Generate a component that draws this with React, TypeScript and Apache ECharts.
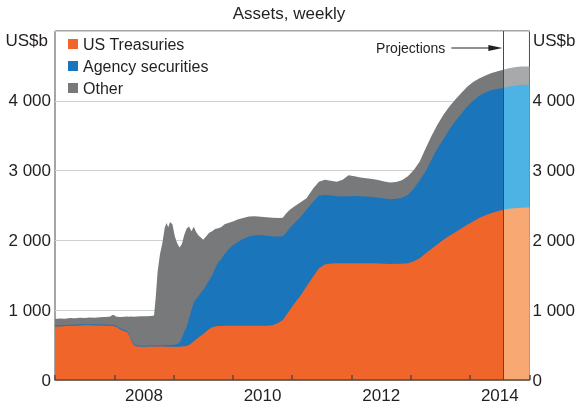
import React, { useEffect, useRef } from 'react';
import * as echarts from 'echarts';

// decimal years
const dates = [
  2007.00, 2007.08, 2007.17, 2007.25, 2007.33, 2007.42, 2007.50, 2007.58, 2007.67, 2007.75,
  2007.83, 2007.92, 2007.98, 2008.04, 2008.10, 2008.17, 2008.21, 2008.25, 2008.29, 2008.33,
  2008.38, 2008.46, 2008.54, 2008.62, 2008.67, 2008.70, 2008.73, 2008.77, 2008.81, 2008.85,
  2008.88, 2008.91, 2008.94, 2008.98, 2009.02, 2009.06, 2009.10, 2009.14, 2009.18, 2009.22,
  2009.26, 2009.30, 2009.34, 2009.38, 2009.42, 2009.46, 2009.50, 2009.55, 2009.60, 2009.65,
  2009.70, 2009.75, 2009.80, 2009.86, 2009.92, 2010.00, 2010.08, 2010.17, 2010.27, 2010.37,
  2010.47, 2010.57, 2010.67, 2010.77, 2010.84, 2010.90, 2010.96, 2011.04, 2011.13, 2011.24,
  2011.35, 2011.45, 2011.55, 2011.65, 2011.75, 2011.85, 2011.95, 2012.05, 2012.15, 2012.25,
  2012.35, 2012.45, 2012.55, 2012.65, 2012.75, 2012.85, 2012.95, 2013.05, 2013.15, 2013.25,
  2013.35, 2013.45, 2013.55, 2013.65, 2013.75, 2013.85, 2013.95, 2014.05, 2014.15, 2014.25,
  2014.35, 2014.45, 2014.56,
];

const treasuries = [
  765, 768, 772, 776, 779, 782, 784, 784, 782, 780,
  779, 776, 772, 760, 722, 700, 690, 640, 560, 500,
  480, 478, 478, 479, 480, 480, 480, 480, 480, 480,
  478, 478, 478, 478, 478, 478, 478, 480, 483, 488,
  500, 525, 555, 585, 610, 635, 660, 695, 730, 755,
  768, 774, 775, 776, 776, 776, 776, 776, 776, 776,
  776, 776, 785, 820, 860, 930, 1004, 1100, 1195, 1338,
  1480, 1600, 1655, 1668, 1672, 1673, 1673, 1674, 1673, 1673,
  1671, 1668, 1665, 1663, 1664, 1667, 1672, 1700, 1745, 1815,
  1880, 1945, 2010, 2065, 2115, 2170, 2225, 2270, 2320, 2355,
  2390, 2415, 2438,
];

const agency = [
  15, 15, 15, 15, 15, 15, 15, 15, 15, 15,
  15, 15, 15, 15, 15, 15, 15, 15, 15, 15,
  15, 14, 14, 15, 16, 16, 16, 16, 17, 18,
  20, 21, 22, 22, 27, 37, 52, 120, 207, 276,
  380, 475, 555, 575, 590, 615, 630, 665, 700, 745,
  832, 906, 955, 1024, 1094, 1154, 1199, 1244, 1279, 1299,
  1303, 1289, 1270, 1235, 1200, 1180, 1176, 1150, 1128, 1100,
  1070, 1040, 1000, 977, 960, 957, 959, 961, 959, 956,
  951, 944, 935, 928, 931, 943, 978, 1040, 1115, 1175,
  1280, 1375, 1440, 1525, 1595, 1640, 1695, 1730, 1750, 1760,
  1760, 1755, 1745,
];

const other = [
  95, 99, 91, 97, 90, 96, 91, 98, 96, 105,
  108, 114, 148, 130, 165, 191, 203, 250, 335, 391,
  413, 420, 423, 424, 429, 704, 1054, 1304, 1463, 1682,
  1752, 1691, 1765, 1730, 1555, 1445, 1370, 1350, 1390, 1406,
  1320, 1130, 1085, 960, 870, 790, 720, 700, 680, 630,
  565, 495, 460, 430, 380, 340, 325, 300, 287, 270,
  261, 265, 268, 265, 265, 280, 258, 240, 215, 167,
  190, 200, 215, 210, 208, 240, 303, 285, 268, 263,
  258, 253, 245, 239, 240, 250, 270, 270, 270, 330,
  340, 340, 350, 330, 310, 300, 280, 270, 250, 245,
  245, 250, 263,
];

const projDates = [2014.56, 2014.65, 2014.75, 2014.85, 2014.95, 2015.0];
const projTreasuries = [2438, 2452, 2462, 2468, 2471, 2471];
const projAgency = [1745, 1748, 1753, 1758, 1760, 1760];
const projOther = [263, 268, 267, 264, 262, 262];

const xYearLabels = [2008, 2010, 2012, 2014];
const projectionStart = 2014.56;

const seriesNames = ['US Treasuries', 'Agency securities', 'Other'];
const mainColors = ['#F0652A', '#1B75BB', '#77797B'];
const projColors = ['#F8A872', '#4CB3E4', '#A7A9AB'];

const FONT = '"Liberation Sans", Arial, Helvetica, sans-serif';

function fmtThousands(v: number): string {
  if (v >= 1000) {
    const th = Math.floor(v / 1000);
    const rest = String(v % 1000).padStart(3, '0');
    return th + ' ' + rest;
  }
  return String(v);
}

function yLabel(v: number): string {
  if (v >= 5000) return '';
  return fmtThousands(v);
}

// cumulative stacks: level 0 = treasuries, 1 = +agency, 2 = +other
function cumulative(parts: number[][]): number[][] {
  const out: number[][] = [];
  let acc = parts[0].map(() => 0);
  parts.forEach((p) => {
    acc = acc.map((a, i) => a + p[i]);
    out.push(acc.slice());
  });
  return out;
}

function pair(xs: number[], ys: number[]) {
  return xs.map((x, i) => [x, ys[i]]);
}

export default function App() {
  const ref = useRef<HTMLDivElement>(null);
  useEffect(() => {
    if (!ref.current) return;
    const chart = echarts.init(ref.current, null, { renderer: 'svg' });
    const mainCum = cumulative([treasuries, agency, other]);
    const projCum = cumulative([projTreasuries, projAgency, projOther]);
    const series: any[] = [];
    // draw tallest first so lower layers sit on top
    [2, 1, 0].forEach((i, order) => {
      series.push({
        name: seriesNames[i],
        type: 'line',
        data: pair(dates, mainCum[i]),
        showSymbol: false,
        symbol: 'none',
        lineStyle: { width: 0, color: mainColors[i] },
        itemStyle: { color: mainColors[i] },
        areaStyle: { color: mainColors[i], opacity: 1, origin: 'start' },
        silent: true,
        z: 2 + order,
      });
    });
    [2, 1, 0].forEach((i, order) => {
      const s: any = {
        name: seriesNames[i] + ' (projection)',
        type: 'line',
        data: pair(projDates, projCum[i]),
        showSymbol: false,
        symbol: 'none',
        lineStyle: { width: 0, color: projColors[i] },
        itemStyle: { color: projColors[i] },
        areaStyle: { color: projColors[i], opacity: 1, origin: 'start' },
        silent: true,
        z: 2 + order,
      };
      if (order === 2) {
        s.markLine = {
          silent: true,
          symbol: ['none', 'none'],
          label: { show: false },
          lineStyle: { color: '#4a4a4a', type: 'solid', width: 1 },
          data: [{ xAxis: projectionStart }],
        };
      }
      series.push(s);
    });

    chart.setOption({
      animation: false,
      textStyle: { fontFamily: FONT },
      title: {
        text: 'Assets, weekly',
        left: 'center',
        top: 5,
        padding: 0,
        textStyle: { fontSize: 17, fontWeight: 'normal', color: '#231f20', fontFamily: FONT },
      },
      legend: {
        data: seriesNames,
        orient: 'vertical',
        left: 68,
        top: 36,
        padding: 0,
        itemWidth: 10,
        itemHeight: 10,
        itemGap: 6,
        icon: 'rect',
        selectedMode: false,
        textStyle: { fontSize: 16, color: '#231f20', fontFamily: FONT },
      },
      grid: {
        left: 55,
        right: 48,
        top: 31,
        bottom: 26,
        show: true,
        borderColor: '#4d4d4d',
        borderWidth: 1,
        backgroundColor: 'transparent',
      },
      xAxis: [
        {
          type: 'value',
          min: 2007,
          max: 2015,
          interval: 1,
          position: 'bottom',
          axisLine: { show: true, onZero: false, lineStyle: { color: '#5a4a40', width: 1.5 } },
          axisTick: { show: true, inside: true, length: 5, lineStyle: { color: '#5a4a40', width: 1.5 } },
          axisLabel: { show: false },
          splitLine: { show: false },
          z: 10,
        },
        {
          type: 'value',
          min: 2007,
          max: 2015,
          interval: 0.5,
          position: 'bottom',
          axisLine: { show: false },
          axisTick: { show: false },
          splitLine: { show: false },
          axisLabel: {
            show: true,
            margin: 7,
            fontSize: 17,
            color: '#231f20',
            fontFamily: FONT,
            formatter: (v: number) => {
              const y = Math.floor(v);
              if (Math.abs(v - y - 0.5) < 0.01 && xYearLabels.indexOf(y) >= 0) return String(y);
              return '';
            },
          },
        },
      ],
      yAxis: [
        {
          type: 'value',
          min: 0,
          max: 5000,
          interval: 1000,
          position: 'left',
          axisLine: { show: false },
          axisTick: { show: false },
          splitLine: { show: true, lineStyle: { color: '#d0d0d0', width: 1 } },
          axisLabel: { margin: 4, fontSize: 17, color: '#231f20', fontFamily: FONT, formatter: yLabel },
        },
        {
          type: 'value',
          min: 0,
          max: 5000,
          interval: 1000,
          position: 'right',
          axisLine: { show: false },
          axisTick: { show: false },
          splitLine: { show: false },
          axisLabel: { margin: 3, fontSize: 17, color: '#231f20', fontFamily: FONT, formatter: yLabel },
        },
      ],
      series,
    });

    const px = chart.convertToPixel({ xAxisIndex: 0 }, projectionStart) as number;
    const top = chart.convertToPixel({ yAxisIndex: 0 }, 5000) as number;
    const arrowY = top + 17;
    chart.setOption({
      graphic: [
        {
          type: 'text',
          x: 48,
          y: 40,
          style: { text: 'US$b', fill: '#231f20', font: '17px ' + FONT, textAlign: 'right', textVerticalAlign: 'middle' },
        },
        {
          type: 'text',
          x: 533,
          y: 40,
          style: { text: 'US$b', fill: '#231f20', font: '17px ' + FONT, textAlign: 'left', textVerticalAlign: 'middle' },
        },
        {
          type: 'text',
          x: px - 58,
          y: arrowY,
          style: { text: 'Projections', fill: '#231f20', font: '14px ' + FONT, textAlign: 'right', textVerticalAlign: 'middle' },
        },
        {
          type: 'line',
          shape: { x1: px - 52, y1: arrowY, x2: px - 12, y2: arrowY },
          style: { stroke: '#231f20', lineWidth: 1 },
        },
        {
          type: 'polygon',
          shape: { points: [[px - 15, arrowY - 3], [px - 1, arrowY], [px - 15, arrowY + 3]] },
          style: { fill: '#231f20' },
        },
      ],
    });

    return () => chart.dispose();
  }, []);
  return <div ref={ref} style={{ position: 'fixed', left: 0, top: 0, width: 578, height: 406 }} />;
}
